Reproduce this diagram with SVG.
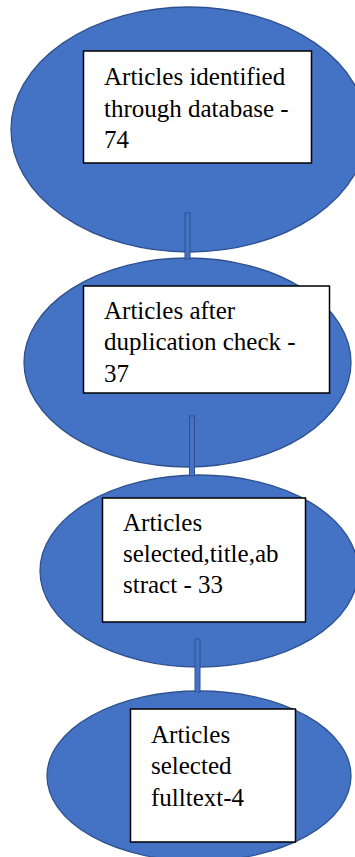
<svg xmlns="http://www.w3.org/2000/svg" width="355" height="857" viewBox="0 0 355 857">
  <style>
    .stage { fill: #4472C4; stroke: #2F528F; stroke-width: 1.3; }
    .link { fill: #4472C4; stroke: #2F528F; stroke-width: 1; }
    .box { fill: #FFFFFF; stroke: #000000; stroke-width: 1.5; }
    .label { font-family: "Liberation Serif", "Times New Roman", serif; font-size: 25px; fill: #000000; }
  </style>
  <rect width="355" height="857" fill="#FFFFFF"/>

  <g id="stage1">
    <ellipse class="stage" cx="189" cy="129.5" rx="178" ry="122.5"/>
    <rect class="box" x="83.5" y="51" width="228" height="112"/>
    <text class="label" x="104" y="85">Articles identified</text>
    <text class="label" x="104" y="117">through database -</text>
    <text class="label" x="104" y="148">74</text>
  </g>

  <g id="stage2">
    <ellipse class="stage" cx="187.5" cy="362.5" rx="163.5" ry="104.5"/>
    <rect class="box" x="83.5" y="286" width="246" height="107"/>
    <text class="label" x="104" y="319">Articles after</text>
    <text class="label" x="104" y="350">duplication check -</text>
    <text class="label" x="104" y="382">37</text>
  </g>

  <g id="stage3">
    <ellipse class="stage" cx="199" cy="571" rx="159" ry="96"/>
    <rect class="box" x="102.5" y="498" width="203" height="124"/>
    <text class="label" x="123" y="531">Articles</text>
    <text class="label" x="123" y="562">selected,title,ab</text>
    <text class="label" x="123" y="593">stract - 33</text>
  </g>

  <g id="stage4">
    <ellipse class="stage" cx="199" cy="776" rx="152" ry="85"/>
    <rect class="box" x="130.5" y="709" width="165" height="133"/>
    <text class="label" x="151" y="743">Articles</text>
    <text class="label" x="151" y="774">selected</text>
    <text class="label" x="151" y="806">fulltext-4</text>
  </g>

  <!-- connectors between stages, drawn over the ellipses -->
  <g id="connectors">
    <rect class="link" x="185" y="213" width="5" height="46"/>
    <rect class="link" x="189.5" y="416" width="5" height="60"/>
    <rect class="link" x="195" y="639" width="5" height="53"/>
  </g>
</svg>
